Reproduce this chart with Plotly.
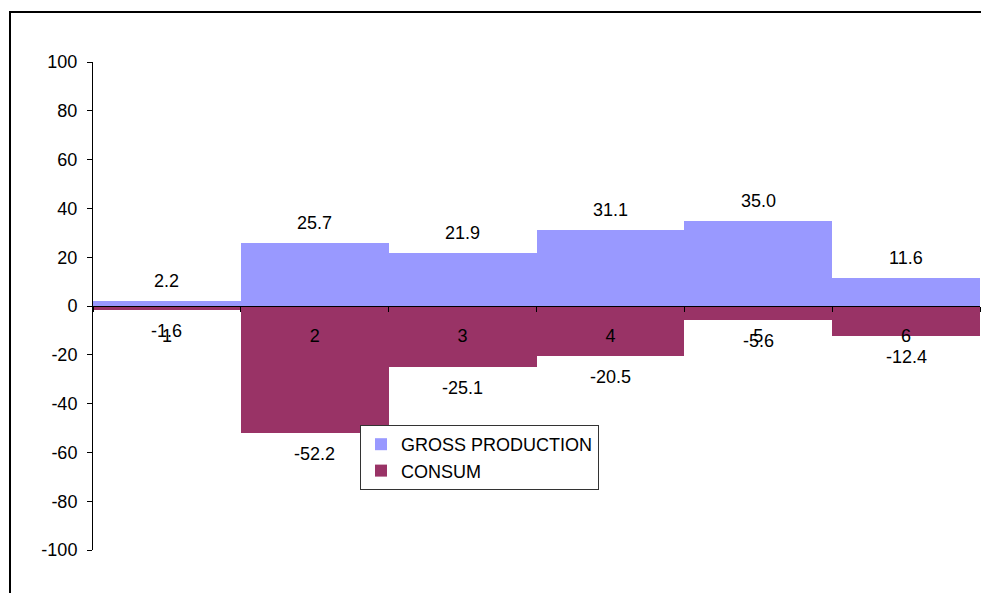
import plotly.graph_objects as go

categories = ["1", "2", "3", "4", "5", "6"]
gross = [2.2, 25.7, 21.9, 31.1, 35.0, 11.6]
consum = [-1.6, -52.2, -25.1, -20.5, -5.6, -12.4]
y_ticks = [-100, -80, -60, -40, -20, 0, 20, 40, 60, 80, 100]

FONT = "Liberation Sans, Arial, sans-serif"
FS = 18

fig = go.Figure()
fig.add_trace(go.Bar(x=categories, y=gross, name="GROSS PRODUCTION",
                     marker=dict(color="#9999FF", line=dict(width=0)),
                     legendgroup="g1"))
fig.add_trace(go.Bar(x=categories, y=consum, name="CONSUM",
                     marker=dict(color="#993366", line=dict(width=0)),
                     legendgroup="g2"))

annotations = []
for i, v in enumerate(gross):
    annotations.append(dict(x=i, y=v, text=f"{v:.1f}", showarrow=False,
                            yshift=20, font=dict(family=FONT, size=FS, color="black")))
for i, v in enumerate(consum):
    annotations.append(dict(x=i, y=v, text=f"{v:.1f}", showarrow=False,
                            yshift=-21, font=dict(family=FONT, size=FS, color="black")))

fig.update_layout(
    width=981, height=593,
    margin=dict(l=93, r=1, t=62, b=43),
    paper_bgcolor="white", plot_bgcolor="white",
    barmode="relative", bargap=0,
    font=dict(family=FONT, size=FS, color="black"),
    annotations=annotations,
    showlegend=True,
    legend=dict(x=(360 - 93) / 887, y=(550 - 425) / 488, xanchor="left", yanchor="top",
                bgcolor="white", bordercolor="#333333", borderwidth=1,
                font=dict(family=FONT, size=FS, color="black"),
                tracegroupgap=8, traceorder="normal"),
    xaxis=dict(type="category", range=[-0.5, 5.5], anchor="free", position=0.5,
               showline=True, linecolor="black", linewidth=1,
               ticks="outside", ticklen=5, tickcolor="black", tickson="boundaries",
               ticklabelstandoff=13,
               showgrid=False, zeroline=False, fixedrange=True,
               tickfont=dict(family=FONT, size=FS, color="black")),
    yaxis=dict(range=[-100, 100], tickvals=y_ticks, ticktext=[str(t) for t in y_ticks],
               showline=True, linecolor="black",
               linewidth=1, ticks="outside", ticklen=5, tickcolor="black",
               ticklabelstandoff=6,
               showgrid=False, zeroline=False, fixedrange=True,
               tickfont=dict(family=FONT, size=FS, color="black")),
    shapes=[dict(type="rect", xref="paper", yref="paper",
                 x0=(10 - 93) / 887, x1=1.2, y0=-0.3, y1=(550 - 12) / 488,
                 line=dict(color="black", width=2), fillcolor="rgba(0,0,0,0)",
                 layer="below")],
)

fig.write_html("out.html")
